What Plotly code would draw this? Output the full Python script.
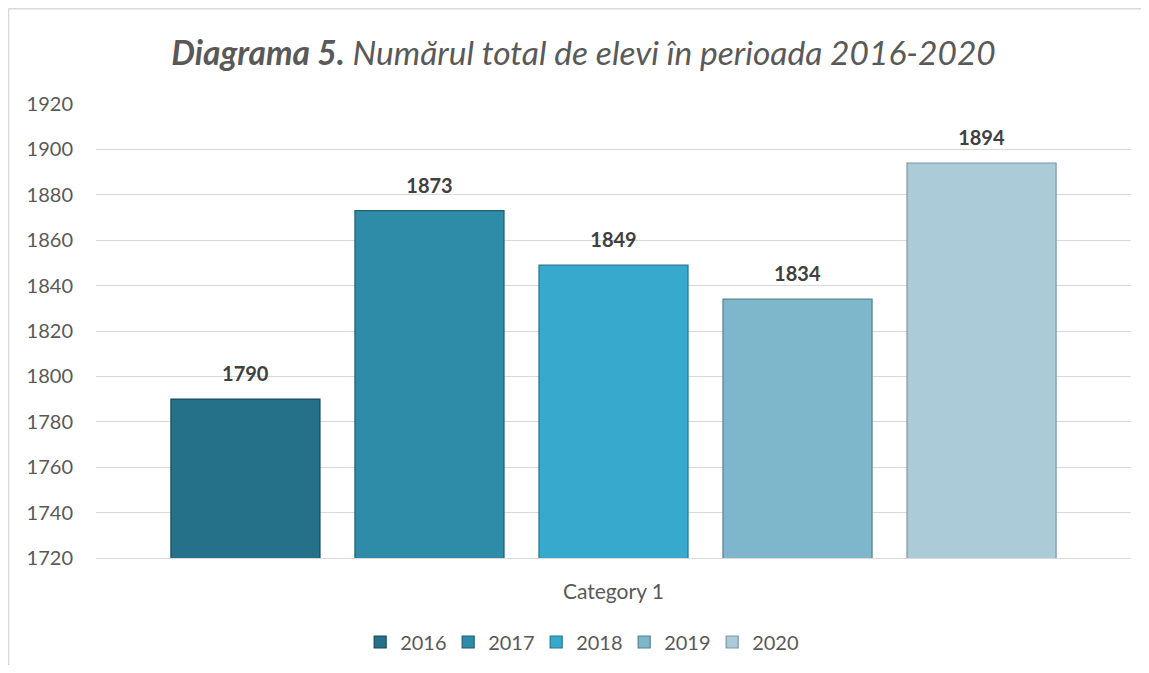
import plotly.graph_objects as go

categories = ["Category 1"]
years = ["2016", "2017", "2018", "2019", "2020"]
values = [1790, 1873, 1849, 1834, 1894]
colors = ["#25718a", "#2e8ca8", "#36a9cc", "#7eb6cb", "#accbd9"]
edge_colors = ["#174b5b", "#1d5f73", "#237892", "#55808f", "#7c96a1"]
y_ticks = [1720, 1740, 1760, 1780, 1800, 1820, 1840, 1860, 1880, 1900, 1920]

FONT = "Lato, 'Open Sans', sans-serif"

fig = go.Figure()
for yr, v, c, ec in zip(years, values, colors, edge_colors):
    fig.add_trace(go.Bar(
        name=yr, x=categories, y=[v],
        marker=dict(color=c, line=dict(color=ec, width=1.2)),
        text=[f"<span style='font-size:20px'><b>{v}</b></span><br>\u00a0"],
        textposition="outside", cliponaxis=False,
        textfont=dict(family=FONT, size=10, color="#404040"),
    ))

fig.update_layout(
    width=1133, height=657,
    margin=dict(l=88, r=10, t=96, b=107, autoexpand=False),
    paper_bgcolor="white", plot_bgcolor="white",
    barmode="group", bargap=0.111, bargroupgap=0.19,
    title=dict(
        text="<b>Diagrama 5.</b> Numărul total de elevi în perioada 2016-2020",
        x=0.508, xanchor="center", y=0.9315, yanchor="middle",
        font=dict(family=FONT, size=33.5, color="#595959", style="italic"),
    ),
    font=dict(family=FONT, color="#595959"),
    showlegend=True,
    legend=dict(
        orientation="h", xref="container", x=0.505, xanchor="center",
        yref="container", y=0.035, yanchor="middle",
        font=dict(family=FONT, size=20, color="#595959"),
        itemwidth=30, traceorder="normal", entrywidth=43,
    ),
)
fig.update_yaxes(
    range=[1720, 1920], tickvals=y_ticks, showgrid=True, gridcolor="#d9d9d9",
    gridwidth=1.3, zeroline=False, showline=False, automargin=False,
    tickfont=dict(family=FONT, size=20, color="#595959"), ticklabelstandoff=22,
)
fig.update_xaxes(
    showline=True, linecolor="#d9d9d9", linewidth=1.3, ticks="", automargin=False,
    tickfont=dict(family=FONT, size=21, color="#595959"), ticklabelstandoff=15,
)

# chart frame (left and top edges, the rest is cropped in the reference)
fig.add_shape(type="line", xref="paper", yref="paper",
              x0=-0.0845, x1=-0.0845, y0=1.2099, y1=-0.2357,
              line=dict(color="#d9d9d9", width=1.5))
fig.add_shape(type="line", xref="paper", yref="paper",
              x0=-0.0845, x1=1.0097, y0=1.2099, y1=1.2099,
              line=dict(color="#d9d9d9", width=1.5))

fig.write_html("out.html")
